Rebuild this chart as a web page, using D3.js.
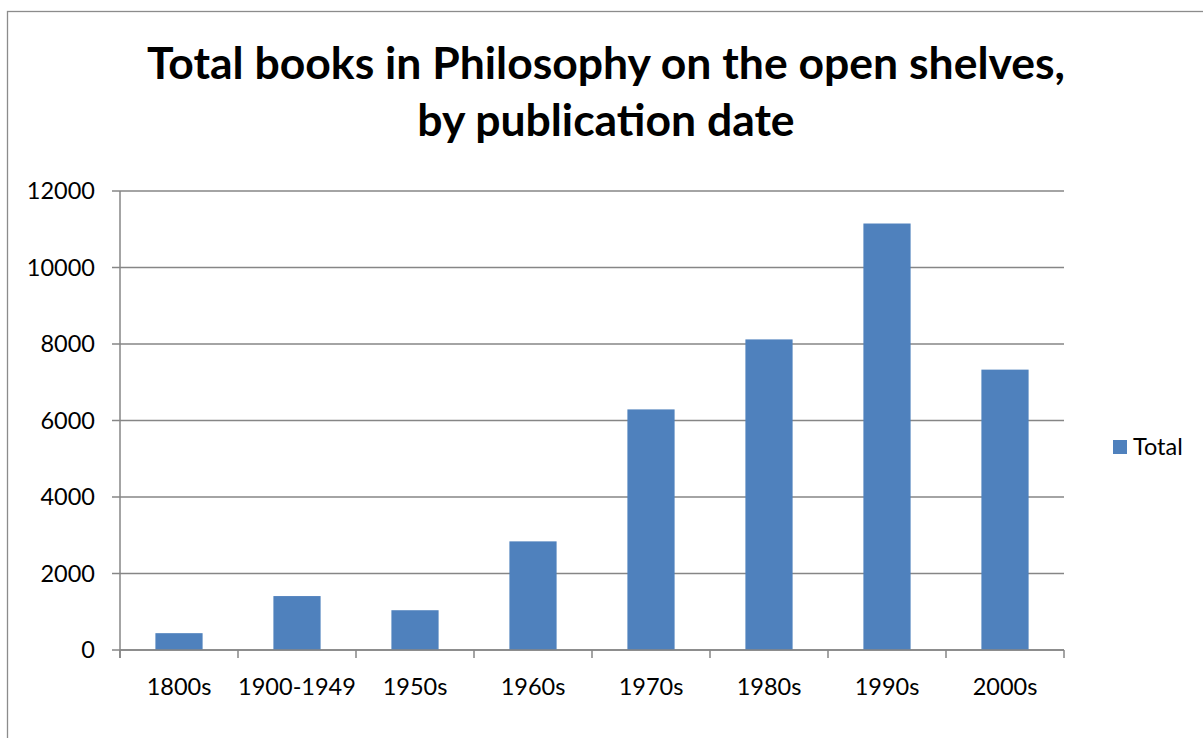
<!DOCTYPE html>
<html>
<head>
<meta charset="utf-8">
<script src="https://cdn.jsdelivr.net/npm/d3@7"></script>
<style>
  body { margin: 0; background: #fff; }
  svg { display: block; }
</style>
</head>
<body>
<script>
// data
var categories = ["1800s", "1900-1949", "1950s", "1960s", "1970s", "1980s", "1990s", "2000s"];
var totals = [440, 1410, 1040, 2840, 6290, 8120, 11150, 7330];
var yTicks = [0, 2000, 4000, 6000, 8000, 10000, 12000];
var seriesName = "Total";
var titleLines = ["Total books in Philosophy on the open shelves,", "by publication date"];

var W = 1203, H = 738;
var font = "Lato, 'Open Sans', sans-serif";
var labelSize = 23.5;
var plot = { left: 120, right: 1064, top: 191, bottom: 650 };

var svg = d3.select("body").append("svg")
    .attr("width", W)
    .attr("height", H);

svg.append("rect")
    .attr("width", W).attr("height", H)
    .attr("fill", "#fff");

// chart frame (only left and top visible)
svg.append("rect")
    .attr("x", 7.5).attr("y", 11.5)
    .attr("width", W + 20).attr("height", H + 20)
    .attr("fill", "none")
    .attr("stroke", "#8c8c8c")
    .attr("stroke-width", 1.3);

var x = d3.scaleBand()
    .domain(categories)
    .range([plot.left, plot.right])
    .paddingInner(0.6)
    .paddingOuter(0.3);

var xEdges = d3.scaleLinear()
    .domain([0, categories.length])
    .range([plot.left, plot.right]);

var y = d3.scaleLinear()
    .domain([0, 12000])
    .range([plot.bottom, plot.top]);

// gridlines
svg.append("g")
    .selectAll("line")
    .data(yTicks)
    .enter()
    .append("line")
    .attr("x1", plot.left - 8)
    .attr("x2", plot.right)
    .attr("y1", function(d) { return y(d); })
    .attr("y2", function(d) { return y(d); })
    .attr("stroke", "#868686")
    .attr("stroke-width", 1.5);

// y labels
svg.append("g")
    .selectAll("text")
    .data(yTicks)
    .enter()
    .append("text")
    .attr("x", 95)
    .attr("y", function(d) { return y(d); })
    .attr("dy", "0.35em")
    .attr("text-anchor", "end")
    .attr("font-family", font)
    .attr("font-size", labelSize)
    .attr("fill", "#000")
    .text(function(d) { return d; });

// bars
svg.append("g")
    .selectAll("rect")
    .data(totals)
    .enter()
    .append("rect")
    .attr("x", function(d, i) { return x(categories[i]); })
    .attr("y", function(d) { return y(d); })
    .attr("width", x.bandwidth())
    .attr("height", function(d) { return plot.bottom - y(d); })
    .attr("fill", "#4f81bd");

// y axis line
svg.append("line")
    .attr("x1", plot.left).attr("x2", plot.left)
    .attr("y1", plot.top).attr("y2", plot.bottom + 8)
    .attr("stroke", "#868686")
    .attr("stroke-width", 1.5);

// x axis line + ticks
svg.append("line")
    .attr("x1", plot.left).attr("x2", plot.right)
    .attr("y1", plot.bottom).attr("y2", plot.bottom)
    .attr("stroke", "#868686")
    .attr("stroke-width", 1.5);

svg.append("g")
    .selectAll("line")
    .data(d3.range(categories.length + 1))
    .enter()
    .append("line")
    .attr("x1", function(d) { return xEdges(d); })
    .attr("x2", function(d) { return xEdges(d); })
    .attr("y1", plot.bottom)
    .attr("y2", plot.bottom + 8)
    .attr("stroke", "#868686")
    .attr("stroke-width", 1.5);

// x labels
svg.append("g")
    .selectAll("text")
    .data(categories)
    .enter()
    .append("text")
    .attr("x", function(d) { return x(d) + x.bandwidth() / 2; })
    .attr("y", 695)
    .attr("text-anchor", "middle")
    .attr("font-family", font)
    .attr("font-size", labelSize)
    .attr("fill", "#000")
    .text(function(d) { return d; });

// title
svg.append("g")
    .selectAll("text")
    .data(titleLines)
    .enter()
    .append("text")
    .attr("x", 606)
    .attr("y", function(d, i) { return 79 + i * 57; })
    .attr("text-anchor", "middle")
    .attr("font-family", font)
    .attr("font-weight", "bold")
    .attr("font-size", 44.5)
    .attr("fill", "#000")
    .text(function(d) { return d; });

// legend
var legend = svg.append("g").attr("transform", "translate(1113,440)");
legend.append("rect")
    .attr("width", 14).attr("height", 14)
    .attr("fill", "#4f81bd");
legend.append("text")
    .attr("x", 20).attr("y", 7)
    .attr("dy", "0.35em")
    .attr("font-family", font)
    .attr("font-size", labelSize)
    .attr("fill", "#000")
    .text(seriesName);
</script>
</body>
</html>
